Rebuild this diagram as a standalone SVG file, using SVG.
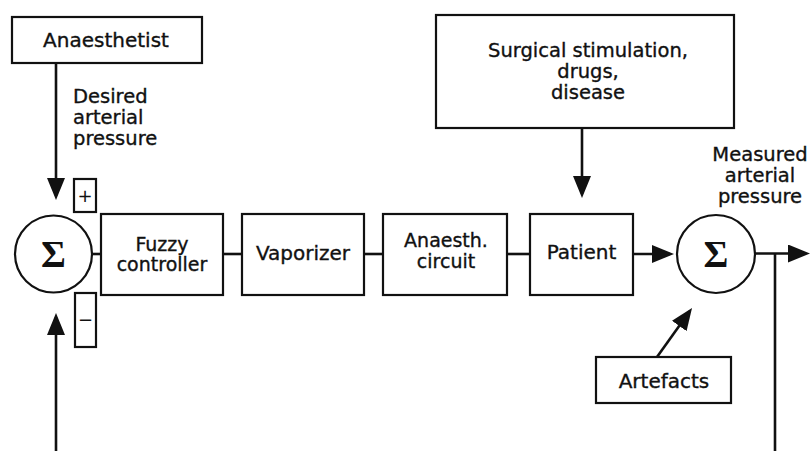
<svg xmlns="http://www.w3.org/2000/svg" width="810" height="451" viewBox="0 0 810 451">
<style>
.box{fill:#fff;stroke:#111;stroke-width:2.2}
.ln{fill:none;stroke:#111;stroke-width:2.6}
.t{font-family:"DejaVu Sans",Verdana,sans-serif;font-size:20px;fill:#111;stroke:#111;stroke-width:0.35;text-anchor:middle}
.m{font-size:19.5px}
.n{font-size:19px}
.tl{font-family:"DejaVu Sans",Verdana,sans-serif;font-size:19.5px;fill:#111;stroke:#111;stroke-width:0.35}
.sig{font-family:"Liberation Serif","DejaVu Serif",serif;font-size:38px;font-weight:bold;fill:#111;text-anchor:middle}
.sm{font-family:"DejaVu Sans",sans-serif;font-size:18px;fill:#111;text-anchor:middle}
</style>
<defs>
<marker id="ah" viewBox="0 0 22 18" refX="18" refY="9" markerWidth="22" markerHeight="18" markerUnits="userSpaceOnUse" orient="auto">
<path d="M0,0 L22,9 L0,18 z" fill="#111"/>
</marker>
</defs>
<rect width="810" height="451" fill="#fff"/>
<g id="connectors">
<line class="ln" x1="56" y1="63" x2="56" y2="196" marker-end="url(#ah)"/>
<line class="ln" x1="56" y1="451" x2="56" y2="317" marker-end="url(#ah)"/>
<line class="ln" x1="92" y1="254" x2="101" y2="254"/>
<line class="ln" x1="223" y1="254" x2="242" y2="254"/>
<line class="ln" x1="364" y1="254" x2="383" y2="254"/>
<line class="ln" x1="507" y1="254" x2="530" y2="254"/>
<line class="ln" x1="633" y1="254" x2="670" y2="254" marker-end="url(#ah)"/>
<line class="ln" x1="582" y1="128" x2="582" y2="194" marker-end="url(#ah)"/>
<line class="ln" x1="657" y1="357" x2="689.7" y2="311.3" marker-end="url(#ah)"/>
<line class="ln" x1="755" y1="253.5" x2="806" y2="253.5" marker-end="url(#ah)"/>
<line class="ln" x1="775" y1="253.5" x2="775" y2="451"/>
</g>
<g id="anaesthetist">
<rect class="box" x="12" y="17" width="190" height="46"/>
<text class="t" x="106" y="47">Anaesthetist</text>
</g>
<g id="desired-label">
<text class="tl" x="73" y="103">Desired</text>
<text class="tl" x="73" y="124">arterial</text>
<text class="tl" x="73" y="145">pressure</text>
</g>
<g id="plus">
<rect class="box" x="74" y="179" width="22" height="33"/>
<text class="sm" x="85" y="202">+</text>
</g>
<g id="minus">
<rect class="box" x="75" y="293" width="21" height="54"/>
<text class="sm" x="85.5" y="326">−</text>
</g>
<g id="sum1">
<circle class="box" cx="53.5" cy="254" r="38.5"/>
<text class="sig" x="53.5" y="267">Σ</text>
</g>
<g id="fuzzy">
<rect class="box" x="101" y="214" width="122" height="81"/>
<text class="t n" x="162" y="251">Fuzzy</text>
<text class="t n" x="162" y="271">controller</text>
</g>
<g id="vaporizer">
<rect class="box" x="242" y="214" width="122" height="81"/>
<text class="t" x="303" y="260">Vaporizer</text>
</g>
<g id="circuit">
<rect class="box" x="383" y="214" width="124" height="81"/>
<text class="t n" x="446" y="247">Anaesth.</text>
<text class="t n" x="446" y="268">circuit</text>
</g>
<g id="patient">
<rect class="box" x="530" y="214" width="103" height="81"/>
<text class="t" x="581.5" y="259">Patient</text>
</g>
<g id="surgical">
<rect class="box" x="436" y="15" width="298" height="113"/>
<text class="t m" x="588" y="57">Surgical stimulation,</text>
<text class="t m" x="588" y="78">drugs,</text>
<text class="t m" x="588" y="99">disease</text>
</g>
<g id="sum2">
<circle class="box" cx="716" cy="254" r="39"/>
<text class="sig" x="716" y="267">Σ</text>
</g>
<g id="measured-label">
<text class="t m" x="760" y="161">Measured</text>
<text class="t m" x="760" y="182">arterial</text>
<text class="t m" x="760" y="203">pressure</text>
</g>
<g id="artefacts">
<rect class="box" x="596" y="357" width="135" height="46"/>
<text class="t" x="664" y="388">Artefacts</text>
</g>
</svg>
